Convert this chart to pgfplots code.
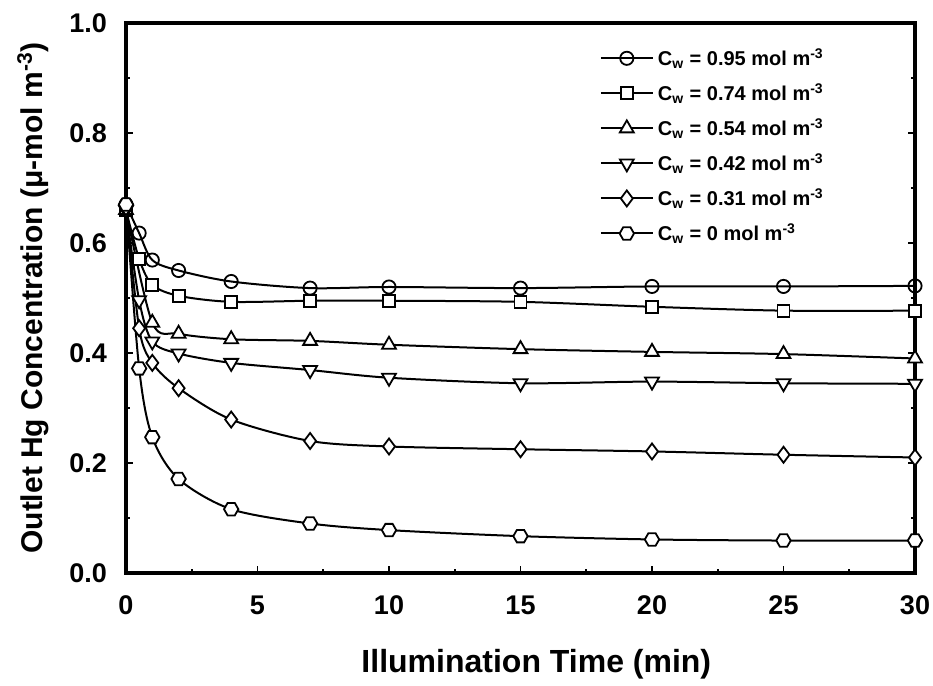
\documentclass[border=0pt]{standalone}
\usepackage{fontspec}
\setmainfont{Liberation Sans}
\usepackage{pgfplots}
\pgfplotsset{compat=1.18}
\pgfdeclareplotmark{hexagon}{%
  \pgfpathmoveto{\pgfqpointpolar{0}{\pgfplotmarksize}}%
  \pgfpathlineto{\pgfqpointpolar{60}{\pgfplotmarksize}}%
  \pgfpathlineto{\pgfqpointpolar{120}{\pgfplotmarksize}}%
  \pgfpathlineto{\pgfqpointpolar{180}{\pgfplotmarksize}}%
  \pgfpathlineto{\pgfqpointpolar{240}{\pgfplotmarksize}}%
  \pgfpathlineto{\pgfqpointpolar{300}{\pgfplotmarksize}}%
  \pgfpathclose
  \pgfusepathqfillstroke}
\begin{document}
\begin{tikzpicture}
\begin{axis}[
  scale only axis,
  width=394.5pt, height=275pt,
  xmin=0, xmax=30, ymin=0, ymax=1,
  xtick={0,5,...,30}, ytick={0,0.2,...,1.0},
  minor x tick num=1, minor y tick num=1,
  xtick pos=lower, ytick pos=both,
  tick align=inside,
  major tick length=3.5pt, minor tick length=2pt,
  axis line style={line width=1.8pt},
  every tick/.style={line width=0.9pt, black},
  /pgf/number format/assume math mode=true,
  yticklabel style={/pgf/number format/fixed,/pgf/number format/zerofill,/pgf/number format/precision=1, font=\fontsize{13.5}{15}\selectfont\bfseries, xshift=-6pt},
  xticklabel style={font=\fontsize{13.5}{15}\selectfont\bfseries, yshift=-8pt, inner xsep=1pt},
  xlabel={Illumination Time (min)},
  ylabel={Outlet Hg Concentration (μ-mol m\textsuperscript{-3})},
  xlabel style={font=\fontsize{16}{18}\selectfont\bfseries, at={(axis description cs:0.52,0)}, anchor=base, yshift=-49.5pt},
  ylabel style={font=\fontsize{15}{17}\selectfont\bfseries, at={(axis description cs:-0.118,0.5)}, anchor=center},
  every axis plot/.append style={line width=1pt, black, smooth, tension=0.5, mark options={fill=white, line width=0.9pt}},
  legend style={draw=none, fill=none, at={(rel axis cs:0.6,0.962)}, anchor=north west,
    font=\fontsize{10}{11.5}\selectfont\bfseries, row sep=3.5pt, inner sep=0pt},
  legend cell align=left,
  legend image code/.code={\draw[mark repeat=2,mark phase=2] plot coordinates {(0pt,0pt) (13pt,0pt) (26pt,0pt)};},
]
\addplot[mark=o, mark size=3.3pt] coordinates {
(0,0.67) (0.5,0.618) (1,0.569) (2,0.550) (4,0.530) (7,0.518) (10,0.520) (15,0.518) (20,0.521) (25,0.521) (30,0.522)};
\addlegendentry{C\textsubscript{w} = 0.95 mol m\textsuperscript{-3}}
\addplot[mark=square*, mark size=3pt] coordinates {
(0,0.66) (0.5,0.571) (1,0.524) (2,0.504) (4,0.493) (7,0.495) (10,0.495) (15,0.493) (20,0.484) (25,0.477) (30,0.477)};
\addlegendentry{C\textsubscript{w} = 0.74 mol m\textsuperscript{-3}}
\addplot[mark=triangle*, mark size=4pt] coordinates {
(0,0.66) (1,0.455) (2,0.435) (4,0.425) (7,0.422) (10,0.415) (15,0.407) (20,0.402) (25,0.398) (30,0.390)};
\addlegendentry{C\textsubscript{w} = 0.54 mol m\textsuperscript{-3}}
\addplot[mark=triangle*, mark size=4pt, mark options={fill=white, line width=0.9pt, rotate=180}] coordinates {
(0,0.66) (0.5,0.496) (1,0.421) (2,0.399) (4,0.382) (7,0.369) (10,0.355) (15,0.345) (20,0.348) (25,0.345) (30,0.344)};
\addlegendentry{C\textsubscript{w} = 0.42 mol m\textsuperscript{-3}}
\addplot[mark=diamond*, mark size=4pt] coordinates {
(0,0.665) (0.5,0.445) (1,0.382) (2,0.336) (4,0.279) (7,0.240) (10,0.230) (15,0.225) (20,0.221) (25,0.215) (30,0.210)};
\addlegendentry{C\textsubscript{w} = 0.31 mol m\textsuperscript{-3}}
\addplot[mark=hexagon, mark size=3.6pt] coordinates {
(0,0.67) (0.5,0.372) (1,0.247) (2,0.171) (4,0.116) (7,0.090) (10,0.078) (15,0.067) (20,0.061) (25,0.059) (30,0.059)};
\addlegendentry{C\textsubscript{w} = 0 mol m\textsuperscript{-3}}
\end{axis}
\path (current axis.north west) ++(0pt,11.5pt);
\path (current axis.south west) ++(-63pt,-51.5pt);
\path (current axis.south east) ++(9pt,0pt);
\end{tikzpicture}
\end{document}
